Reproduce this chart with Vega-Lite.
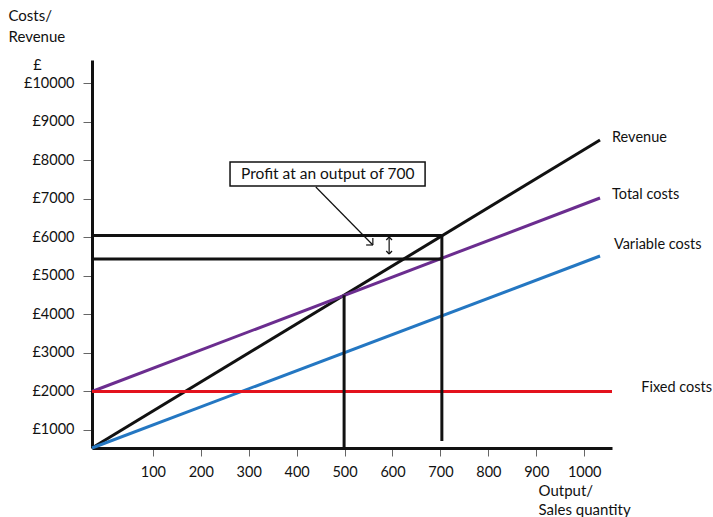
{
  "$schema": "https://vega.github.io/schema/vega-lite/v6.json",
  "width": 520,
  "height": 388,
  "autosize": {"type": "none"},
  "padding": {"left": 92, "top": 60, "right": 101, "bottom": 69},
  "background": "white",
  "config": {
    "view": {"stroke": null},
    "font": "Lato",
    "axis": {"grid": false, "labelFont": "Lato", "titleFont": "Lato", "labelColor": "#111", "titleColor": "#111"}
  },
  "datasets": {
    "lines": [
      {"series": "Revenue", "x": -27, "y": 532},
      {"series": "Revenue", "x": 1033, "y": 8532},
      {"series": "Total costs", "x": -27, "y": 2000},
      {"series": "Total costs", "x": 1033, "y": 7026},
      {"series": "Variable costs", "x": -27, "y": 532},
      {"series": "Variable costs", "x": 1033, "y": 5519},
      {"series": "Fixed costs", "x": -27, "y": 2000},
      {"series": "Fixed costs", "x": 1058, "y": 2000}
    ],
    "guides": [
      {"x": -27, "x2": 703, "y": 6050, "y2": 6050},
      {"x": -27, "x2": 703, "y": 5440, "y2": 5440},
      {"x": 499, "x2": 499, "y": 532, "y2": 4500},
      {"x": 703, "x2": 703, "y": 714, "y2": 6050}
    ],
    "thin": [
      {"x": 440, "x2": 559, "y": 7312, "y2": 5805},
      {"x": 545, "x2": 559, "y": 5805, "y2": 5805},
      {"x": 559, "x2": 559, "y": 5987, "y2": 5805},
      {"x": 593, "x2": 593, "y": 6013, "y2": 5571},
      {"x": 587, "x2": 593, "y": 5935, "y2": 6013},
      {"x": 593, "x2": 599, "y": 6013, "y2": 5935},
      {"x": 587, "x2": 593, "y": 5649, "y2": 5571},
      {"x": 593, "x2": 599, "y": 5571, "y2": 5649}
    ],
    "box": [{"x": 261, "x2": 668, "y": 7338, "y2": 7961}],
    "labels": [
      {"text": "Revenue", "x": 1058, "y": 8584},
      {"text": "Total costs", "x": 1058, "y": 7104},
      {"text": "Variable costs", "x": 1062, "y": 5805},
      {"text": "Fixed costs", "x": 1119, "y": 2091}
    ],
    "note": [{"text": "Profit at an output of 700", "x": 465, "y": 7649}],
    "pound": [{"text": "£", "x": -141, "y": 10351}]
  },
  "layer": [
    {
      "data": {"name": "box"},
      "mark": {"type": "rect", "fill": "white", "stroke": "#111", "strokeWidth": 1.5},
      "encoding": {
        "x": {"field": "x", "type": "quantitative", "scale": {"domain": [-27, 1058], "nice": false, "zero": false},
          "axis": {
            "values": [100, 200, 300, 400, 500, 600, 700, 800, 900, 1000],
            "format": "d",
            "domainColor": "#111", "domainWidth": 3,
            "tickColor": "#666", "tickSize": 8, "tickWidth": 1,
            "labelFontSize": 14.5, "labelPadding": 9, "labelColor": "#111",
            "title": ["Output/", "Sales quantity"],
            "titleFontSize": 15, "titleFontWeight": "normal", "titleAlign": "left",
            "titleAnchor": "start", "titleBaseline": "alphabetic",
            "titleX": 446, "titleY": 47, "titleLineHeight": 19
          }},
        "x2": {"field": "x2"},
        "y": {"field": "y", "type": "quantitative", "scale": {"domain": [532, 10610], "nice": false, "zero": false},
          "axis": {
            "values": [1000, 2000, 3000, 4000, 5000, 6000, 7000, 8000, 9000, 10000],
            "labelExpr": "'£' + datum.value",
            "domainColor": "#111", "domainWidth": 3,
            "tickColor": "#666", "tickSize": 9, "tickWidth": 1,
            "labelFontSize": 14.5, "labelPadding": 9,
            "title": ["Costs/", "Revenue"],
            "titleFontSize": 15, "titleFontWeight": "normal", "titleAngle": 0,
            "titleAlign": "left", "titleAnchor": "start", "titleBaseline": "alphabetic",
            "titleX": -84, "titleY": -40, "titleLineHeight": 21
          }},
        "y2": {"field": "y2"}
      }
    },
    {
      "data": {"name": "lines"},
      "mark": {"type": "line", "strokeWidth": 3},
      "encoding": {
        "x": {"field": "x", "type": "quantitative"},
        "y": {"field": "y", "type": "quantitative"},
        "color": {"field": "series", "type": "nominal",
          "scale": {"domain": ["Revenue", "Total costs", "Variable costs", "Fixed costs"],
                    "range": ["#111111", "#6b2d8f", "#2477c2", "#e3121d"]},
          "legend": null}
      }
    },
    {
      "data": {"name": "guides"},
      "mark": {"type": "rule", "strokeWidth": 3, "color": "#111"},
      "encoding": {
        "x": {"field": "x", "type": "quantitative"},
        "x2": {"field": "x2"},
        "y": {"field": "y", "type": "quantitative"},
        "y2": {"field": "y2"}
      }
    },
    {
      "data": {"name": "thin"},
      "mark": {"type": "rule", "strokeWidth": 1.2, "color": "#111"},
      "encoding": {
        "x": {"field": "x", "type": "quantitative"},
        "x2": {"field": "x2"},
        "y": {"field": "y", "type": "quantitative"},
        "y2": {"field": "y2"}
      }
    },
    {
      "data": {"name": "note"},
      "mark": {"type": "text", "fontSize": 15.5, "align": "center", "baseline": "middle", "color": "#111"},
      "encoding": {
        "x": {"field": "x", "type": "quantitative"},
        "y": {"field": "y", "type": "quantitative"},
        "text": {"field": "text"}
      }
    },
    {
      "data": {"name": "labels"},
      "mark": {"type": "text", "fontSize": 14.5, "align": "left", "baseline": "middle", "color": "#111", "clip": false},
      "encoding": {
        "x": {"field": "x", "type": "quantitative"},
        "y": {"field": "y", "type": "quantitative"},
        "text": {"field": "text"}
      }
    },
    {
      "data": {"name": "pound"},
      "mark": {"type": "text", "fontSize": 14.5, "align": "center", "baseline": "alphabetic", "color": "#111", "clip": false},
      "encoding": {
        "x": {"field": "x", "type": "quantitative"},
        "y": {"field": "y", "type": "quantitative"},
        "text": {"field": "text"}
      }
    }
  ]
}
